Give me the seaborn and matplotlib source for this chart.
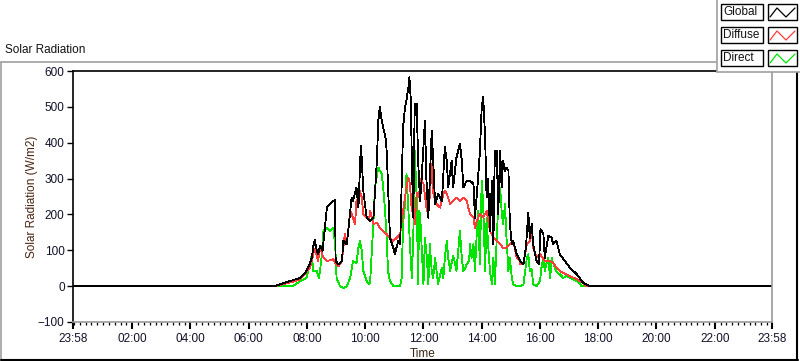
import pandas as pd
import matplotlib
matplotlib.use('Agg')
import matplotlib.pyplot as plt
import matplotlib.dates as mdates
from matplotlib.lines import Line2D
from matplotlib.patches import Rectangle
import seaborn as sns

# values (W/m2), times HH:MM
global_time = ["00:00", "06:54", "07:04", "07:25", "07:46", "07:59", "08:05", "08:10", "08:13", "08:16",
               "08:20", "08:23", "08:27", "08:32", "08:37", "08:41", "08:47", "08:54", "08:58", "08:59",
               "09:05", "09:12", "09:15", "09:22", "09:25", "09:32", "09:35", "09:42", "09:46", "09:51",
               "09:53", "09:56", "10:03", "10:10", "10:17", "10:24", "10:27", "10:30", "10:34", "10:37",
               "10:43", "10:45", "10:51", "10:58", "11:01", "11:08", "11:12", "11:18", "11:22", "11:25",
               "11:29", "11:31", "11:34", "11:36", "11:39", "11:42", "11:46", "11:49", "11:53", "11:56",
               "12:03", "12:06", "12:10", "12:17", "12:20", "12:24", "12:30", "12:38", "12:44", "12:48",
               "12:51", "12:58", "13:01", "13:08", "13:15", "13:19", "13:22", "13:29", "13:36", "13:43",
               "13:46", "13:50", "13:56", "14:00", "14:03", "14:07", "14:10", "14:13", "14:17", "14:21",
               "14:24", "14:27", "14:31", "14:34", "14:38", "14:41", "14:44", "14:48", "14:51", "14:55",
               "14:58", "15:02", "15:05", "15:12", "15:19", "15:26", "15:31", "15:36", "15:39", "15:43",
               "15:46", "15:53", "15:58", "16:01", "16:07", "16:10", "16:17", "16:24", "16:27", "16:34",
               "16:41", "17:02", "17:16", "17:29", "17:43", "23:58"]
global_wm2 = [0, 0, 5, 14, 23, 42, 60, 79, 110, 130,
              100, 90, 112, 98, 163, 219, 229, 238, 240, 70,
              61, 70, 126, 117, 154, 247, 238, 275, 219, 392,
              350, 266, 191, 182, 191, 350, 462, 499, 462, 443,
              406, 350, 135, 107, 89, 126, 117, 443, 499, 518,
              555, 583, 518, 350, 191, 509, 509, 350, 238, 294,
              462, 300, 191, 434, 350, 229, 257, 238, 388, 350,
              275, 350, 275, 359, 397, 350, 275, 294, 294, 285,
              191, 257, 369, 499, 527, 415, 247, 300, 154, 294,
              117, 378, 378, 200, 378, 275, 350, 322, 331, 322,
              173, 117, 126, 89, 70, 61, 107, 205, 135, 173,
              117, 70, 61, 159, 145, 79, 140, 135, 117, 126,
              89, 51, 33, 9, 0, 0]

diffuse_time = ["00:00", "06:54", "07:04", "07:25", "07:46", "08:06", "08:13", "08:15", "08:18", "08:23",
                "08:27", "08:34", "08:41", "08:54", "08:58", "09:05", "09:12", "09:18", "09:22", "09:29",
                "09:32", "09:39", "09:42", "09:46", "09:49", "09:53", "09:56", "10:03", "10:08", "10:10",
                "10:17", "10:24", "10:30", "10:37", "10:44", "10:51", "10:58", "11:05", "11:12", "11:18",
                "11:22", "11:25", "11:29", "11:32", "11:36", "11:39", "11:42", "11:46", "11:51", "11:53",
                "12:00", "12:07", "12:13", "12:17", "12:20", "12:27", "12:34", "12:41", "12:44", "12:48",
                "12:55", "13:01", "13:08", "13:15", "13:22", "13:29", "13:34", "13:36", "13:43", "13:46",
                "13:50", "13:56", "14:03", "14:10", "14:17", "14:24", "14:31", "14:38", "14:44", "14:51",
                "14:58", "15:05", "15:12", "15:17", "15:19", "15:26", "15:33", "15:39", "15:43", "15:46",
                "15:53", "16:00", "16:10", "16:21", "16:27", "16:34", "16:41", "16:48", "16:55", "17:02",
                "17:16", "17:26", "17:36", "23:58"]
diffuse_wm2 = [0, 0, 3, 10, 19, 51, 89, 103, 95, 70,
               107, 79, 70, 75, 65, 56, 70, 145, 117, 210,
               201, 173, 238, 247, 266, 247, 201, 191, 187, 210,
               173, 177, 163, 154, 145, 135, 126, 135, 145, 210,
               247, 275, 303, 285, 210, 229, 173, 260, 247, 300,
               285, 210, 247, 341, 260, 229, 219, 257, 266, 257,
               229, 238, 247, 238, 247, 238, 210, 201, 191, 163,
               182, 201, 191, 210, 154, 135, 126, 117, 107, 107,
               117, 126, 79, 75, 61, 65, 117, 126, 154, 107,
               79, 89, 70, 70, 65, 51, 42, 37, 33, 28,
               19, 11, 0, 0]

direct_time = ["00:00", "07:31", "07:46", "07:59", "08:06", "08:10", "08:13", "08:20", "08:25", "08:30",
               "08:34", "08:41", "08:47", "08:54", "08:58", "09:01", "09:08", "09:15", "09:22", "09:29",
               "09:35", "09:42", "09:46", "09:49", "09:53", "09:56", "10:03", "10:08", "10:10", "10:17",
               "10:20", "10:27", "10:30", "10:34", "10:37", "10:41", "10:44", "10:47", "10:51", "10:58",
               "11:12", "11:15", "11:18", "11:22", "11:25", "11:29", "11:32", "11:36", "11:39", "11:42",
               "11:46", "11:49", "11:51", "11:53", "11:56", "12:00", "12:03", "12:07", "12:10", "12:13",
               "12:17", "12:20", "12:24", "12:27", "12:30", "12:34", "12:38", "12:41", "12:44", "12:48",
               "12:51", "12:55", "12:58", "13:01", "13:05", "13:08", "13:12", "13:15", "13:19", "13:22",
               "13:26", "13:29", "13:34", "13:36", "13:39", "13:43", "13:46", "13:50", "13:53", "13:56",
               "14:00", "14:03", "14:07", "14:10", "14:13", "14:17", "14:21", "14:24", "14:27", "14:31",
               "14:34", "14:38", "14:41", "14:44", "14:48", "14:51", "14:55", "14:58", "15:02", "15:05",
               "15:12", "15:19", "15:26", "15:33", "15:36", "15:39", "15:43", "15:46", "15:53", "16:00",
               "16:03", "16:07", "16:10", "16:13", "16:17", "16:21", "16:24", "16:27", "16:31", "16:34",
               "16:41", "16:48", "16:55", "17:02", "17:16", "17:26", "23:58"]
direct_wm2 = [0, 0, 14, 23, 61, 89, 42, 42, 23, 79,
              154, 163, 154, 163, 117, 23, 0, -5, 0, 23,
              70, 65, 107, 126, 98, 42, 14, 5, 9, 182,
              275, 331, 322, 313, 275, 210, 135, 42, 14, 0,
              0, 23, 173, 229, 313, 210, 117, 23, 135, 378,
              247, 5, 210, 201, 117, 5, 135, 79, 5, 117,
              42, 23, 79, 42, 5, 30, 51, 23, 79, 126,
              79, 42, 65, 84, 65, 42, 107, 154, 79, 42,
              51, 61, 70, 117, 79, 117, 42, 154, 210, 61,
              294, 229, 42, 191, 120, 42, 5, 79, 5, 135,
              229, 275, 210, 173, 229, 135, 42, 79, 23, 5,
              0, 0, 5, 79, 89, 42, 47, 5, 0, 14,
              51, 79, 42, 61, 79, 23, 79, 65, 51, 40,
              33, 23, 28, 23, 14, 0, 0]

series_names = ["Global", "Diffuse", "Direct"]
series_colors = {"Global": "#000000", "Diffuse": "#ff3c3c", "Direct": "#00e400"}

day = "2020-01-02 "


def make_frame(times, values, name):
    return pd.DataFrame({"time": pd.to_datetime([day + t for t in times]),
                         "value": values, "series": name})


df = pd.concat([make_frame(global_time, global_wm2, "Global"),
                make_frame(diffuse_time, diffuse_wm2, "Diffuse"),
                make_frame(direct_time, direct_wm2, "Direct")], ignore_index=True)

sns.set_style("white")
plt.rcParams['font.family'] = ['Liberation Sans', 'DejaVu Sans']

W, H = 800, 361
fx = lambda x: x / W
fy = lambda y: 1 - y / H

fig = plt.figure(figsize=(8, 3.61), dpi=100)
ax = fig.add_axes([fx(73), fy(322), 699 / W, 251 / H])

# LabVIEW draws 1px aliased traces
sns.lineplot(data=df, x="time", y="value", hue="series", hue_order=["Direct", "Diffuse", "Global"],
             palette=series_colors, estimator=None, sort=False, legend=False, lw=0.6,
             antialiased=False, ax=ax)

start = pd.Timestamp("2020-01-01 23:58")
end = pd.Timestamp("2020-01-02 23:58")
ax.set_xlim(start, end)
ax.set_ylim(-100, 600)
ax.set_yticks(range(-100, 601, 100))
ax.set_xticks([start] + [pd.Timestamp(day + "%02d:00" % h) for h in range(2, 23, 2)] + [end])
ax.xaxis.set_major_formatter(mdates.DateFormatter("%H:%M"))
ax.xaxis.set_minor_locator(mdates.MinuteLocator(byminute=[0, 12, 24, 36, 48]))

lab_col = "#10102a"
ax.tick_params(axis="y", which="major", direction="out", length=4, width=1, pad=2,
               labelsize=8.5, colors="black", labelcolor=lab_col, left=True)
ax.tick_params(axis="x", which="major", direction="out", length=5, width=1.5, pad=3,
               labelsize=8.5, colors="black", labelcolor=lab_col, bottom=True)
ax.tick_params(axis="x", which="minor", direction="out", length=2.5, width=0.9,
               colors="black", bottom=True)

for s in ["left", "top"]:
    ax.spines[s].set_color("black")
    ax.spines[s].set_linewidth(1.2)
for s in ["right", "bottom"]:
    ax.spines[s].set_color("#9a9a9a")
    ax.spines[s].set_linewidth(1.2)

ax.set_xlabel("Time", fontsize=8.5, color="#3c2412")
ax.xaxis.set_label_coords(0.5, -(348 - 322) / 251)
ax.set_ylabel("Solar Radiation (W/m2)", fontsize=8.5, color="#4a2412")
ax.yaxis.set_label_coords(-(73 - 38) / 699, 0.5)

# panel title
fig.text(fx(5), fy(50), "Solar Radiation", fontsize=8.5, color="#111111", ha="left", va="center")

# outer raised frame
fig.lines.append(Line2D([fx(1), fx(717)], [fy(62), fy(62)], transform=fig.transFigure, color="#a0a0a0", lw=1.2))
fig.lines.append(Line2D([fx(1), fx(1)], [fy(62), fy(360)], transform=fig.transFigure, color="#a0a0a0", lw=1.2))
fig.lines.append(Line2D([fx(1), fx(798)], [fy(360), fy(360)], transform=fig.transFigure, color="black", lw=1.5))
fig.lines.append(Line2D([fx(797), fx(797)], [fy(72), fy(360)], transform=fig.transFigure, color="black", lw=1.5))

# legend panel, LabVIEW style
fig.patches.append(Rectangle((fx(717), fy(72)), 83 / W, 72 / H, transform=fig.transFigure,
                             facecolor="white", edgecolor="none", zorder=5))
fig.lines.append(Line2D([fx(717), fx(717)], [fy(0), fy(72)], transform=fig.transFigure, color="#a0a0a0", lw=1.2, zorder=6))
fig.lines.append(Line2D([fx(717), fx(800)], [fy(72), fy(72)], transform=fig.transFigure, color="#a0a0a0", lw=1.2, zorder=6))

for i, name in enumerate(series_names):
    top = 4 + i * 23
    bot = top + 16
    fig.patches.append(Rectangle((fx(721), fy(bot)), 42 / W, 16 / H, transform=fig.transFigure,
                                 facecolor="white", edgecolor="black", lw=1.0, zorder=7))
    fig.text(fx(723), fy((top + bot) / 2), name, fontsize=8.5, color="#111111",
             ha="left", va="center", zorder=8)
    fig.patches.append(Rectangle((fx(768), fy(bot)), 29 / W, 16 / H, transform=fig.transFigure,
                                 facecolor="white", edgecolor="black", lw=1.0, zorder=7))
    fig.lines.append(Line2D([fx(770), fx(777), fx(786), fx(795)],
                            [fy(bot - 3), fy(top + 4), fy(bot - 3), fy(top + 4)],
                            transform=fig.transFigure, color=series_colors[name], lw=0.9, zorder=8))

fig.savefig("out.png", dpi=100)
